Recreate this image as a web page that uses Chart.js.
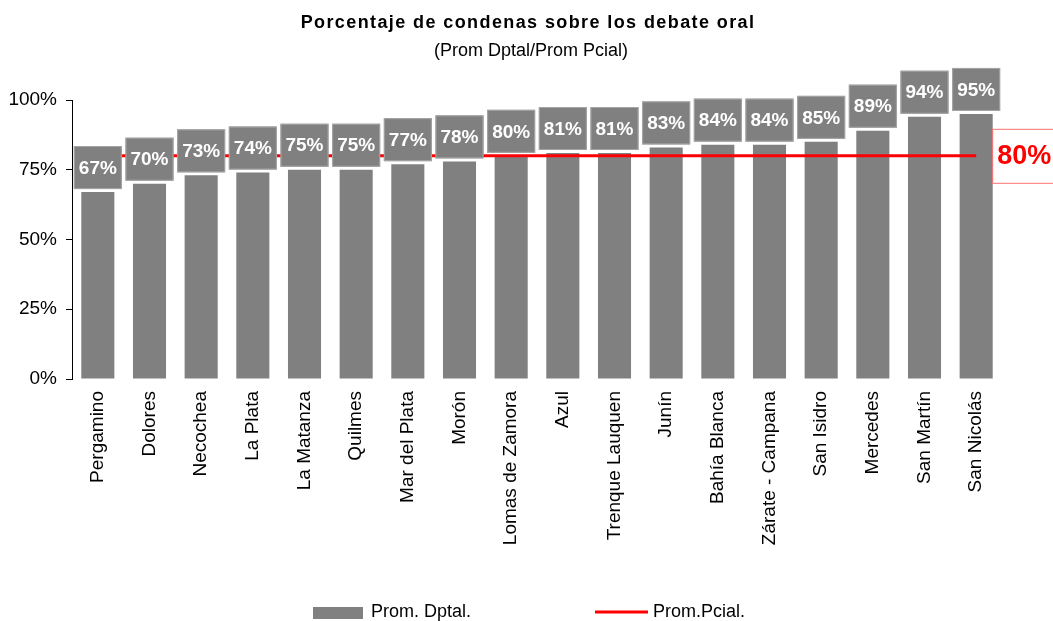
<!DOCTYPE html>
<html>
<head>
<meta charset="utf-8">
<script src="https://cdn.jsdelivr.net/npm/chart.js@4.4.1/dist/chart.umd.min.js"></script>
<style>
  html, body { margin: 0; padding: 0; background: #fff; }
  #wrap { width: 1053px; height: 621px; }
</style>
</head>
<body>
<div id="wrap"><canvas id="chart"></canvas></div>
<script>
// Data
const departamentos = ['Pergamino', 'Dolores', 'Necochea', 'La Plata', 'La Matanza', 'Quilmes',
  'Mar del Plata', 'Morón', 'Lomas de Zamora', 'Azul', 'Trenque Lauquen', 'Junín',
  'Bahía Blanca', 'Zárate - Campana', 'San Isidro', 'Mercedes', 'San Martín', 'San Nicolás'];
const promDptal = [67, 70, 73, 74, 75, 75, 77, 78, 80, 81, 81, 83, 84, 84, 85, 89, 94, 95];
const promPcial = [80, 80, 80, 80, 80, 80, 80, 80, 80, 80, 80, 80, 80, 80, 80, 80, 80, 80];
const yTicks = [0, 25, 50, 75, 100];

const FONT = '"Liberation Sans", Arial, sans-serif';
const GRAY = '#808080';
const RED = '#ff0000';

// Titles drawn by hand so letter spacing can match
const titlePlugin = {
  id: 'titles',
  afterDraw(chart) {
    const ctx = chart.ctx;
    ctx.save();
    ctx.fillStyle = '#000';
    ctx.textAlign = 'center';
    ctx.textBaseline = 'alphabetic';
    ctx.font = 'bold 18px ' + FONT;
    ctx.letterSpacing = '1.4px';
    ctx.fillText('Porcentaje de condenas sobre los debate oral', 528, 28);
    ctx.font = '18px ' + FONT;
    ctx.letterSpacing = '0px';
    ctx.fillText('(Prom Dptal/Prom Pcial)', 531, 56);
    ctx.restore();
  }
};

// Value boxes above bars and the "80%" tag at the end of the line
const labelPlugin = {
  id: 'valueBoxes',
  afterDatasetsDraw(chart) {
    const ctx = chart.ctx;
    const bars = chart.getDatasetMeta(1).data;
    ctx.save();
    ctx.textAlign = 'center';
    ctx.textBaseline = 'middle';
    ctx.font = 'bold 19px ' + FONT;
    bars.forEach((bar, i) => {
      const w = 48, h = 43;
      const bottom = bar.y - 3;
      ctx.fillStyle = GRAY;
      ctx.fillRect(bar.x - w / 2, bottom - h, w, h);
      ctx.strokeStyle = '#a6a6a6';
      ctx.lineWidth = 1;
      ctx.strokeRect(bar.x - w / 2 + 0.5, bottom - h + 0.5, w - 1, h - 1);
      ctx.fillStyle = '#fff';
      ctx.fillText(promDptal[i] + '%', bar.x, bottom - h / 2 + 1);
    });

    const pts = chart.getDatasetMeta(0).data;
    const last = pts[pts.length - 1];
    const bx = last.x + 16;
    ctx.strokeStyle = '#ff7070';
    ctx.lineWidth = 1;
    ctx.strokeRect(bx + 0.5, last.y - 27 + 0.5, 80, 54);
    ctx.fillStyle = RED;
    ctx.textAlign = 'left';
    ctx.font = 'bold 27px ' + FONT;
    ctx.fillText(promPcial[promPcial.length - 1] + '%', bx + 5, last.y + 1);
    ctx.restore();
  }
};

// Legend at the bottom
const legendPlugin = {
  id: 'bottomLegend',
  afterDraw(chart) {
    const ctx = chart.ctx;
    const ds = chart.data.datasets;
    ctx.save();
    ctx.font = '18px ' + FONT;
    ctx.textBaseline = 'middle';
    ctx.textAlign = 'left';
    ctx.fillStyle = ds[1].backgroundColor;
    ctx.fillRect(313, 607, 50, 12);
    ctx.fillStyle = '#000';
    ctx.fillText(ds[1].label, 371, 612);
    ctx.strokeStyle = ds[0].borderColor;
    ctx.lineWidth = 3;
    ctx.beginPath();
    ctx.moveTo(595, 612);
    ctx.lineTo(648, 612);
    ctx.stroke();
    ctx.fillText(ds[0].label, 653, 612);
    ctx.restore();
  }
};

new Chart(document.getElementById('chart'), {
  data: {
    labels: departamentos,
    datasets: [
      {
        type: 'line',
        label: 'Prom.Pcial.',
        data: promPcial,
        borderColor: RED,
        borderWidth: 3,
        pointRadius: 0,
        fill: false,
        order: 0
      },
      {
        type: 'bar',
        label: 'Prom. Dptal.',
        data: promDptal,
        backgroundColor: GRAY,
        borderWidth: 0,
        categoryPercentage: 1,
        barPercentage: 0.64,
        order: 1
      }
    ]
  },
  options: {
    responsive: true,
    maintainAspectRatio: false,
    animation: false,
    layout: { padding: { top: 100, right: 51, bottom: 0, left: 0 } },
    plugins: {
      legend: { display: false },
      title: { display: false },
      tooltip: { enabled: false }
    },
    scales: {
      x: {
        grid: { display: false },
        border: { display: false },
        ticks: {
          color: '#000',
          font: { family: FONT, size: 19 },
          minRotation: 90,
          maxRotation: 90,
          autoSkip: false,
          padding: 4
        },
        afterFit(scale) { scale.height = 242; }
      },
      y: {
        min: 0,
        max: 100,
        afterBuildTicks(scale) { scale.ticks = yTicks.map(v => ({ value: v })); },
        grid: { drawOnChartArea: false, tickLength: 6, color: '#000' },
        border: { display: true, color: '#000', width: 1 },
        ticks: {
          color: '#000',
          font: { family: FONT, size: 19 },
          padding: 9,
          callback: v => v + '%'
        },
        afterFit(scale) { scale.width = 72; }
      }
    }
  },
  plugins: [labelPlugin, titlePlugin, legendPlugin]
});
</script>
</body>
</html>
